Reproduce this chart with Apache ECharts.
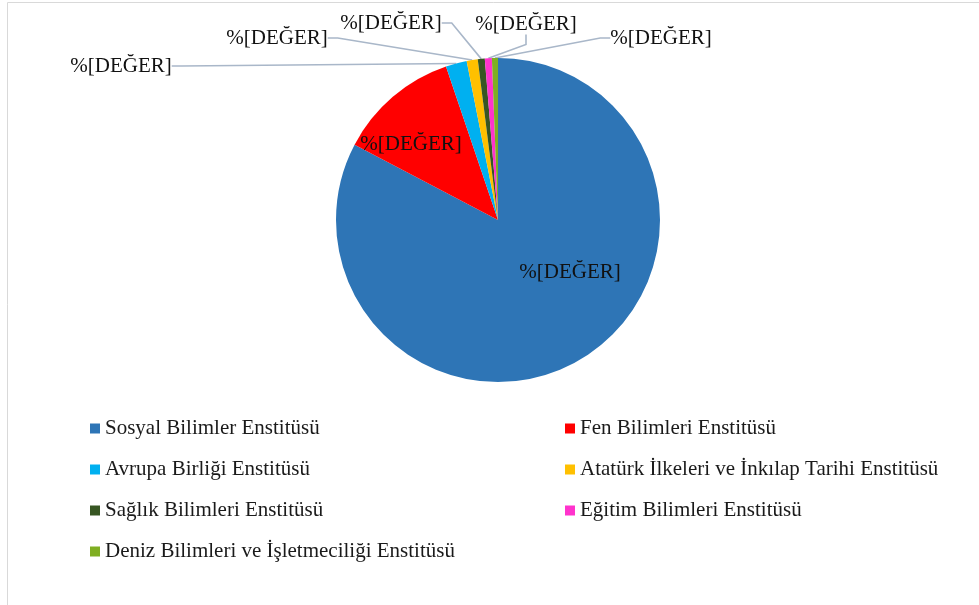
<!DOCTYPE html>
<html lang="tr">
<head>
    <meta charset="UTF-8">
    <title>Enstitü Dağılımı</title>
    <script src="https://cdn.jsdelivr.net/npm/echarts/dist/echarts.min.js"></script>
    <style>
        html, body { margin: 0; padding: 0; background: #fff; }
        #chart-container { width: 979px; height: 605px; }
    </style>
</head>
<body>
    <div id="chart-container"></div>
    <script>
        var institutes = [
            'Sosyal Bilimler Enstitüsü',
            'Fen Bilimleri Enstitüsü',
            'Avrupa Birliği Enstitüsü',
            'Atatürk İlkeleri ve İnkılap Tarihi Enstitüsü',
            'Sağlık Bilimleri Enstitüsü',
            'Eğitim Bilimleri Enstitüsü',
            'Deniz Bilimleri ve İşletmeciliği Enstitüsü'
        ];
        var shares = [82.7, 12.1, 2.1, 1.1, 0.7, 0.7, 0.6];
        var labelText = '%[DEĞER]';

        var colors = ['#2E75B6', '#FF0000', '#00B0F0', '#FFC000', '#375623', '#FF33CC', '#7FAE22'];
        // label centres (px), same order as institutes
        var labelPos = [[570, 272], [411, 144], [121, 66], [277, 38], [391, 23], [526, 24], [661, 38]];
        var insideLabel = [true, true, false, false, false, false, false];

        var font = '"Liberation Serif", "Times New Roman", serif';

        var myChart = echarts.init(document.getElementById('chart-container'));

        var pieData = institutes.map(function (name, i) {
            return {
                name: name,
                value: shares[i],
                itemStyle: { color: colors[i] },
                labelLine: { show: !insideLabel[i] }
            };
        });

        var leftCol = [institutes[0], institutes[2], institutes[4], institutes[6]];
        var rightCol = [institutes[1], institutes[3], institutes[5]];

        function legendOf(names, left) {
            return {
                data: names,
                orient: 'vertical',
                left: left,
                top: 418,
                padding: 0,
                itemWidth: 10,
                itemHeight: 10,
                itemGap: 20,
                icon: 'rect',
                selectedMode: false,
                textStyle: {
                    fontFamily: font,
                    fontSize: 21,
                    lineHeight: 21,
                    color: '#1a1a1a',
                    padding: [0, 0, 0, 0]
                }
            };
        }

        var option = {
            animation: false,
            graphic: [{
                type: 'rect',
                shape: { x: 7.5, y: 2.5, width: 1000, height: 700 },
                style: { fill: 'none', stroke: '#D9D9D9', lineWidth: 1 }
            }],
            legend: [legendOf(leftCol, 90), legendOf(rightCol, 565)],
            series: [{
                type: 'pie',
                center: [498, 220],
                radius: 162,
                startAngle: 90,
                clockwise: true,
                data: pieData,
                label: {
                    show: true,
                    formatter: function () { return labelText; },
                    fontFamily: font,
                    fontSize: 21,
                    color: '#111'
                },
                labelLine: {
                    show: true,
                    length: 10,
                    length2: 10,
                    lineStyle: { color: '#A9B7C9', width: 1.6 }
                },
                labelLayout: function (params) {
                    var p = labelPos[params.dataIndex];
                    return {
                        x: p[0],
                        y: p[1],
                        align: 'center',
                        verticalAlign: 'middle'
                    };
                },
                emphasis: { disabled: true }
            }]
        };

        myChart.setOption(option);

        window.addEventListener('resize', function () {
            myChart.resize();
        });
    </script>
</body>
</html>
